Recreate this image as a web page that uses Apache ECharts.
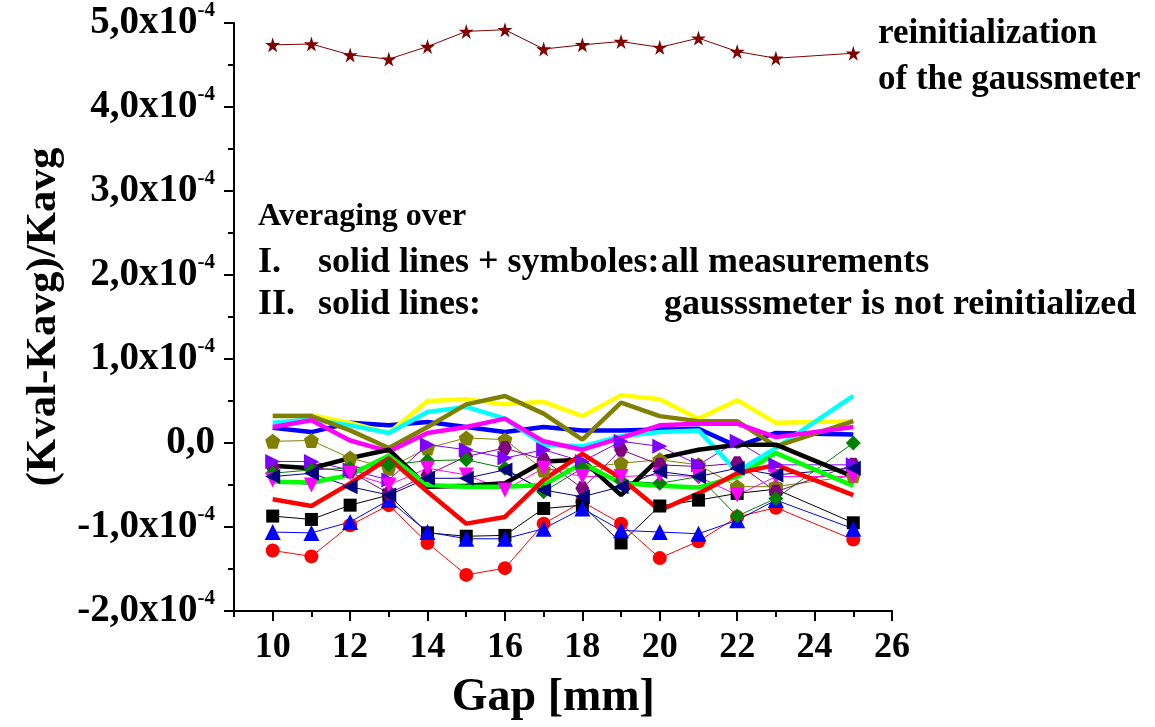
<!DOCTYPE html>
<html>
<head>
<meta charset="utf-8">
<script src="https://cdn.jsdelivr.net/npm/echarts@6/dist/echarts.min.js"></script>
<style>
  html, body { margin: 0; padding: 0; background: #fff; }
  #chart { width: 1155px; height: 727px; }
</style>
</head>
<body>
<div id="chart"></div>
<script>
// gap values [mm], y values in units of 1e-4
var gaps = [10, 11, 12, 13, 14, 15, 16, 17, 18, 19, 20, 21, 22, 23, 25];
var yTicks = [-2, -1, 0, 1, 2, 3, 4, 5];
var xTicks = [10, 12, 14, 16, 18, 20, 22, 24, 26];

// reinitialized gaussmeter
var starValues = [4.74, 4.75, 4.62, 4.57, 4.72, 4.90, 4.92, 4.69, 4.74, 4.78, 4.71, 4.82, 4.66, 4.58, 4.64];

// thin lines + symbols
var redCircle    = [-1.28, -1.35, -0.98, -0.74, -1.19, -1.57, -1.49, -0.96, -0.70, -0.96, -1.37, -1.17, -0.88, -0.77, -1.15];
var blackSquare  = [-0.87, -0.91, -0.74, -0.62, -1.07, -1.11, -1.10, -0.78, -0.74, -1.19, -0.75, -0.68, -0.60, -0.55, -0.95];
var blueTriangle = [-1.06, -1.07, -0.94, -0.68, -1.06, -1.14, -1.14, -1.02, -0.78, -1.04, -1.06, -1.08, -0.92, -0.68, -1.02];
var olivePenta   = [0.02, 0.03, -0.18, -0.30, -0.06, 0.06, 0.04, -0.32, -0.30, -0.24, -0.20, -0.26, -0.52, -0.52, -0.39];
var purpleHex    = [-0.29, -0.29, -0.34, -0.60, -0.38, -0.16, -0.06, -0.20, -0.54, -0.08, -0.26, -0.28, -0.24, -0.58, -0.26];
var violetRight  = [-0.22, -0.22, -0.32, -0.44, -0.02, -0.08, -0.18, -0.08, -0.22, 0.02, -0.04, -0.26, 0.02, -0.26, -0.26];
var greenDiamond = [-0.36, -0.32, -0.30, -0.26, -0.21, -0.20, -0.30, -0.58, -0.30, -0.45, -0.48, -0.40, -0.87, -0.66, 0.00];
var magentaDown  = [-0.44, -0.50, -0.36, -0.50, -0.30, -0.38, -0.56, -0.30, -0.40, -0.40, -0.38, -0.40, -0.62, -0.40, -0.40];
var navyLeft     = [-0.40, -0.36, -0.52, -0.62, -0.42, -0.42, -0.32, -0.56, -0.64, -0.52, -0.34, -0.40, -0.30, -0.38, -0.30];

// thick solid lines
var blueLine    = [0.18, 0.13, 0.24, 0.21, 0.25, 0.19, 0.13, 0.19, 0.15, 0.15, 0.16, 0.17, -0.04, 0.12, 0.10];
var yellowLine  = [0.33, 0.33, 0.24, 0.12, 0.50, 0.52, 0.46, 0.49, 0.32, 0.57, 0.52, 0.29, 0.51, 0.24, 0.26];
var cyanLine    = [0.24, 0.28, 0.21, 0.12, 0.37, 0.43, 0.29, -0.02, -0.04, 0.08, 0.13, 0.15, -0.34, -0.06, 0.56];
var oliveLine   = [0.32, 0.32, 0.15, -0.06, 0.19, 0.46, 0.56, 0.35, 0.04, 0.48, 0.32, 0.26, 0.26, -0.04, 0.26];
var magentaLine = [0.19, 0.27, 0.03, -0.10, 0.12, 0.19, 0.29, 0.02, -0.08, 0.06, 0.21, 0.23, 0.23, 0.07, 0.19];
var blackLine   = [-0.27, -0.30, -0.18, -0.08, -0.52, -0.51, -0.48, -0.22, -0.20, -0.62, -0.18, -0.08, -0.02, -0.02, -0.40];
var greenLine   = [-0.46, -0.47, -0.38, -0.15, -0.50, -0.52, -0.52, -0.50, -0.24, -0.48, -0.51, -0.53, -0.40, -0.12, -0.51];
var redLine     = [-0.67, -0.75, -0.48, -0.18, -0.58, -0.96, -0.88, -0.44, -0.13, -0.42, -0.80, -0.60, -0.36, -0.26, -0.62];

var FONT = '"Liberation Serif", "Times New Roman", serif';
var STAR = 'path://M50,0 L61,35 L98,35 L68,57 L79,91 L50,70 L21,91 L32,57 L2,35 L39,35 Z';
var PENTA = 'path://M50,0 L98,36 L80,95 L20,95 L2,36 Z';
var HEX = 'path://M28,0 L72,0 L100,50 L72,100 L28,100 L0,50 Z';

function pairs(vals) {
    return gaps.map(function (g, i) { return [g, vals[i]]; });
}

function symbolSeries(name, vals, color, symbol, size, rotate) {
    return {
        name: name, type: 'line', xAxisIndex: 0, yAxisIndex: 0,
        data: pairs(vals),
        symbol: symbol, symbolSize: size, symbolRotate: rotate || 0,
        showAllSymbol: true,
        lineStyle: { color: color, width: 1 },
        itemStyle: { color: color, borderWidth: 0 },
        animation: false
    };
}

function thickSeries(name, vals, color) {
    return {
        name: name, type: 'line', xAxisIndex: 0, yAxisIndex: 0,
        data: pairs(vals),
        showSymbol: false,
        lineStyle: { color: color, width: 4.5 },
        animation: false
    };
}

function yLabel(v) {
    if (v === 0) return '{a|0,0}';
    return '{a|' + v.toFixed(1).replace('.', ',') + 'x10}{b|-4}';
}

var chart = echarts.init(document.getElementById('chart'));

var option = {
    animation: false,
    textStyle: { fontFamily: FONT, fontWeight: 'bold', color: '#000' },
    grid: [
        { left: 234, right: 263, top: 23, bottom: 116 },
        { left: 272.7, right: 263, top: 23, bottom: 116 }
    ],
    xAxis: [
        {
            type: 'value', gridIndex: 0, min: 9, max: 26, interval: 1,
            axisLine: { onZero: false, lineStyle: { color: '#000', width: 2 } },
            axisTick: { length: 6, lineStyle: { color: '#000', width: 2 } },
            axisLabel: { show: false },
            splitLine: { show: false }
        },
        {
            type: 'value', gridIndex: 1, min: xTicks[0], max: xTicks[xTicks.length - 1], interval: 2,
            axisLine: { show: true, onZero: false, lineStyle: { color: '#000', width: 2 } },
            axisTick: { length: 10, lineStyle: { color: '#000', width: 2 } },
            axisLabel: {
                margin: 19, fontSize: 36, fontWeight: 'bold', fontFamily: FONT, color: '#000'
            },
            splitLine: { show: false },
            name: 'Gap [mm]', nameLocation: 'middle', nameGap: 64,
            nameTextStyle: { fontSize: 46, fontWeight: 'bold', fontFamily: FONT, color: '#000', padding: [0, 58, 0, 0] }
        }
    ],
    yAxis: [
        {
            type: 'value', gridIndex: 0, min: yTicks[0], max: yTicks[yTicks.length - 1], interval: 1,
            axisLine: { show: true, onZero: false, lineStyle: { color: '#000', width: 2 } },
            axisTick: { length: 10, lineStyle: { color: '#000', width: 2 } },
            minorTick: { show: true, splitNumber: 2, length: 6, lineStyle: { color: '#000', width: 2 } },
            splitLine: { show: false },
            axisLabel: {
                margin: 19,
                formatter: yLabel,
                rich: {
                    a: { fontSize: 39, fontWeight: 'bold', fontFamily: FONT, color: '#000' },
                    b: { fontSize: 21, fontWeight: 'bold', fontFamily: FONT, color: '#000', padding: [0, 0, 25, 0] }
                }
            },
            name: '(Kval-Kavg)/Kavg', nameLocation: 'middle', nameRotate: 90, nameGap: 169,
            nameTextStyle: { fontSize: 43, fontWeight: 'bold', fontFamily: FONT, color: '#000' }
        },
        {
            type: 'value', gridIndex: 1, min: yTicks[0], max: yTicks[yTicks.length - 1], show: false
        }
    ],
    graphic: [
        { type: 'text', left: 878, top: 16, style: { text: 'reinitialization', font: 'bold 35px ' + FONT, fill: '#000' } },
        { type: 'text', left: 878, top: 62, style: { text: 'of the gaussmeter', font: 'bold 35px ' + FONT, fill: '#000' } },
        { type: 'text', left: 258, top: 201, style: { text: 'Averaging over', font: 'bold 32px ' + FONT, fill: '#000' } },
        { type: 'text', left: 258, top: 245, style: { text: 'I.', font: 'bold 36px ' + FONT, fill: '#000' } },
        { type: 'text', left: 318, top: 245, style: { text: 'solid lines + symboles:', font: 'bold 36px ' + FONT, fill: '#000' } },
        { type: 'text', left: 661, top: 245, style: { text: 'all measurements', font: 'bold 36px ' + FONT, fill: '#000' } },
        { type: 'text', left: 258, top: 287, style: { text: 'II.', font: 'bold 36px ' + FONT, fill: '#000' } },
        { type: 'text', left: 318, top: 287, style: { text: 'solid lines:', font: 'bold 36px ' + FONT, fill: '#000' } },
        { type: 'text', left: 664, top: 287, style: { text: 'gausssmeter is not reinitialized', font: 'bold 36px ' + FONT, fill: '#000' } }
    ],
    series: [
        symbolSeries('reinit', starValues, '#800000', STAR, 15),
        symbolSeries('red circle', redCircle, '#FF0000', 'circle', 14),
        symbolSeries('black square', blackSquare, '#000000', 'rect', 13),
        symbolSeries('blue triangle', blueTriangle, '#0000FF', 'triangle', 16),
        symbolSeries('olive pentagon', olivePenta, '#808000', PENTA, 15),
        symbolSeries('purple hexagon', purpleHex, '#800080', HEX, 14),
        symbolSeries('violet right', violetRight, '#8000FF', 'triangle', 15, -90),
        symbolSeries('green diamond', greenDiamond, '#008000', 'diamond', 15),
        symbolSeries('magenta down', magentaDown, '#FF00FF', 'triangle', 15, 180),
        symbolSeries('navy left', navyLeft, '#000080', 'triangle', 15, 90),
        thickSeries('blue', blueLine, '#0000FF'),
        thickSeries('yellow', yellowLine, '#FFFF00'),
        thickSeries('cyan', cyanLine, '#00FFFF'),
        thickSeries('olive', oliveLine, '#808000'),
        thickSeries('magenta', magentaLine, '#FF00FF'),
        thickSeries('black', blackLine, '#000000'),
        thickSeries('green', greenLine, '#00FF00'),
        thickSeries('red', redLine, '#FF0000')
    ]
};

chart.setOption(option);
</script>
</body>
</html>
